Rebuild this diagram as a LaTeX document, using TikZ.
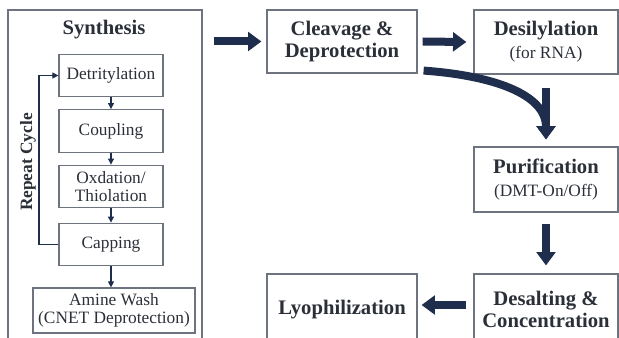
\documentclass[tikz,border=0pt]{standalone}
\usepackage{fontspec}
\setmainfont{Liberation Serif}
\usetikzlibrary{arrows.meta,calc}
\definecolor{navy}{HTML}{1F2E4D}
\definecolor{boxgray}{HTML}{6E7380}
\definecolor{inkgray}{HTML}{2B2F38}
\newcommand{\hd}[1]{{\fontsize{15.5}{17.5}\selectfont\bfseries #1}}
\tikzset{
  stage/.style={draw=boxgray, line width=0.9pt, text=inkgray, align=center,
    inner sep=0pt, font=\fontsize{13}{17}\selectfont},
  cyclebox/.style={stage, minimum width=78pt, minimum height=32pt,
    font=\fontsize{13}{13.5}\selectfont},
  fat/.style={navy, line width=6pt, -{Triangle[width=14pt,length=10pt]}},
  cyclearrow/.style={navy, line width=0.8pt, -{Triangle[width=4.5pt,length=4.5pt]}},
}
\begin{document}
\begin{tikzpicture}[x=0.75pt,y=-0.75pt]
\useasboundingbox (0,0) rectangle (619,338);
\clip (0,0) rectangle (619,338);

% synthesis column
\node[stage, minimum width=145.5pt, minimum height=251.25pt] (synth) at (105,177.5) {};
\node[text=inkgray] (synthtitle) at (104,30) {\hd{Synthesis}};
\node[cyclebox] (detrit) at (111,75.5) {Detritylation};
\node[cyclebox] (coupl) at (111,131) {Coupling};
\node[cyclebox] (oxid) at (111,186.5) {Oxdation/\\Thiolation};
\node[cyclebox] (capp) at (111,244.5) {Capping};
\node[cyclebox, minimum width=121.5pt, minimum height=33.75pt] (amine) at (114,310.5) {Amine Wash\\(CNET Deprotection)};
\node[rotate=90, text=inkgray, font=\fontsize{13}{15}\selectfont\bfseries] (repeat) at (28,162) {Repeat Cycle};
\coordinate (loopx) at (39,0);

\draw[cyclearrow] (detrit) -- (coupl);
\draw[cyclearrow] (coupl) -- (oxid);
\draw[cyclearrow] (oxid) -- (capp);
\draw[cyclearrow] (capp.south) -- (capp.south |- amine.north);
\draw[cyclearrow] (capp.west) -- (capp.west -| loopx) -- (detrit.west -| loopx) -- (detrit.west);

% downstream steps
\node[stage, minimum width=112.5pt, minimum height=47.25pt] (clv) at (342,41.5) {\hd{Cleavage \&}\\\hd{Deprotection}};
\node[stage, minimum width=108pt, minimum height=48pt] (desil) at (546,42) {\hd{Desilylation}\\(for RNA)};
\node[stage, minimum width=108pt, minimum height=48.75pt] (purif) at (546,179.5) {\hd{Purification}\\(DMT-On/Off)};
\node[stage, minimum width=108pt, minimum height=53.25pt] (desalt) at (546,309.5) {\hd{Desalting \&}\\\hd{Concentration}};
\node[stage, minimum width=112.5pt, minimum height=53.25pt] (lyo) at (342,309.5) {\hd{Lyophilization}};

\draw[fat] ($(synth.east |- clv)+(11,0)$) -- ($(clv.west)+(-5,0)$);
\draw[fat] ($(clv.east)+(5,0)$) -- ($(desil.west)+(-7,0)$);
\draw[fat] ($(desil.south)+(0,13)$) -- ($(purif.north)+(0,-7)$);
\draw[fat] ($(clv.south east)+(6,-3)$) .. controls +(70,5) and +(0,-45) .. ($(purif.north)+(0,-7)$);
\draw[fat] ($(purif.south)+(0,11)$) -- ($(desalt.north)+(0,-8)$);
\draw[fat] ($(desalt.west)+(-7,-4.5)$) -- ($(lyo.east)+(4,-4.5)$);
\end{tikzpicture}
\end{document}
